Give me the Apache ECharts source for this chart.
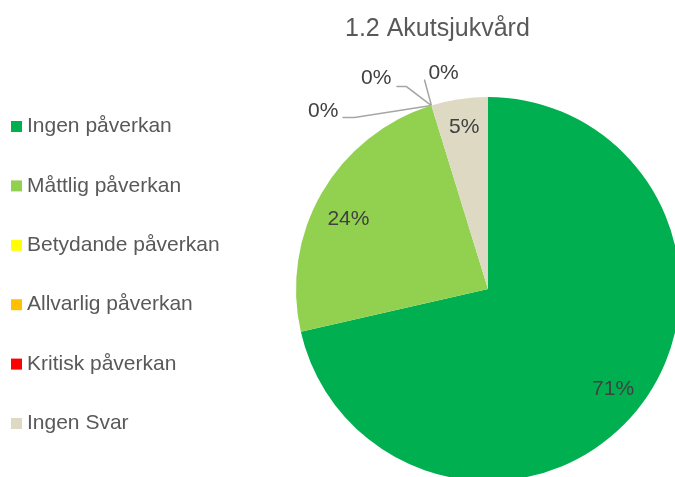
<!DOCTYPE html>
<html>
<head>
<meta charset="utf-8">
<script src="https://cdn.jsdelivr.net/npm/echarts@6/dist/echarts.min.js"></script>
<style>
  html, body { margin: 0; padding: 0; background: #fff; }
  #main { width: 675px; height: 477px; }
</style>
</head>
<body>
<div id="main"></div>
<script>
const categories = [
  "Ingen påverkan",
  "Måttlig påverkan",
  "Betydande påverkan",
  "Allvarlig påverkan",
  "Kritisk påverkan",
  "Ingen Svar",
];
// number of answers per category
const values = [15, 5, 0, 0, 0, 1];
const colors = ["#00b050", "#92d050", "#ffff00", "#ffc000", "#ff0000", "#ddd9c3"];

const font = "'Liberation Sans', Arial, sans-serif";

// leader line offsets for the 0% labels (from the slice edge)
const zeroLabelOffsets = {
  2: { line: [[-77, 12], [-89, 12]], dx: -93, dy: 6, align: "right" },
  3: { line: [[-25, -19], [-35, -19]], dx: -40, dy: -27, align: "right" },
  4: { line: [[-7, -26], [-7, -26]], dx: -3, dy: -32, align: "left" },
};
// small nudges for the inside labels
const insideNudge = { 1: [-1, 10], 5: [0, -4] };

let myChart = echarts.init(document.getElementById("main"));
let option = {
  backgroundColor: "#fff",
  animation: false,
  color: colors,
  title: {
    text: "1.2 Akutsjukvård",
    left: 345,
    top: 17,
    padding: 0,
    textStyle: {
      color: "#595959",
      fontSize: 25,
      fontWeight: "normal",
      fontFamily: font,
    },
  },
  legend: {
    orient: "vertical",
    left: 11,
    top: 116,
    padding: 0,
    itemWidth: 11,
    itemHeight: 11,
    itemGap: 38.4,
    icon: "rect",
    selectedMode: false,
    data: categories,
    textStyle: {
      color: "#595959",
      fontSize: 21,
      lineHeight: 21,
      fontFamily: font,
    },
  },
  series: [
    {
      // the slices
      type: "pie",
      center: [488, 289],
      radius: [0, 192],
      startAngle: 90,
      clockwise: true,
      silent: true,
      label: { show: false },
      labelLine: { show: false },
      data: categories.map((name, i) => ({ name: name, value: values[i] })),
    },
    {
      // transparent ring, only for label placement
      type: "pie",
      center: [488, 289],
      radius: [122, 192],
      startAngle: 90,
      clockwise: true,
      silent: true,
      avoidLabelOverlap: false,
      itemStyle: { color: "rgba(0,0,0,0)" },
      label: {
        show: true,
        position: "inside",
        formatter: (p) => Math.round(p.percent) + "%",
        color: "#404040",
        fontSize: 21,
        fontFamily: font,
      },
      labelLine: {
        show: true,
        length: 10,
        length2: 10,
        lineStyle: { color: "#a6a6a6", width: 1.5 },
      },
      labelLayout: function (p) {
        let n = insideNudge[p.dataIndex];
        if (n) return { dx: n[0], dy: n[1] };
        let o = zeroLabelOffsets[p.dataIndex];
        if (!o || !p.labelLinePoints) return {};
        let a = p.labelLinePoints[0];
        return {
          x: a[0] + o.dx,
          y: a[1] + o.dy,
          align: o.align,
          verticalAlign: "middle",
          labelLinePoints: [
            [a[0], a[1]],
            [a[0] + o.line[0][0], a[1] + o.line[0][1]],
            [a[0] + o.line[1][0], a[1] + o.line[1][1]],
          ],
        };
      },
      data: categories.map((name, i) => ({
        name: name,
        value: values[i],
        label: { position: values[i] === 0 ? "outside" : "inside" },
        labelLine: { show: values[i] === 0 },
      })),
    },
  ],
};
myChart.setOption(option);
</script>
</body>
</html>
